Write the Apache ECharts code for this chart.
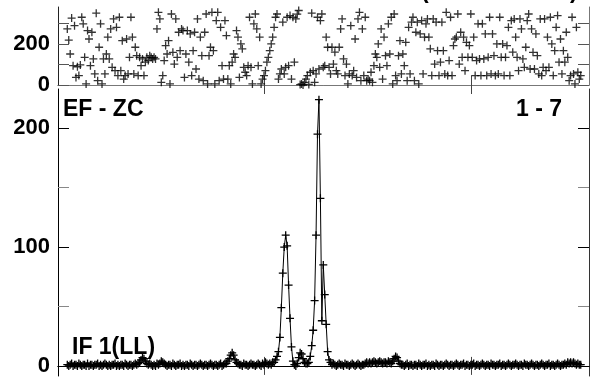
<!DOCTYPE html>
<html>
<head>
<meta charset="utf-8">
<script src="https://cdn.jsdelivr.net/npm/echarts@6/dist/echarts.min.js"></script>
<style>
  html, body { margin: 0; padding: 0; background: #fff; }
  #chart { width: 591px; height: 381px; }
</style>
</head>
<body>
<div id="chart"></div>
<script>
// frame axis: first sample and spacing
const xStart = 4.5;
const xStep = 0.7;

// upper panel: angle per frame
const topAngle = [
  273,219,151,326,94,289,37,89,46,98,
  330,298,135,5,265,224,94,257,127,54,
  350,21,184,298,5,127,54,151,233,127,
  273,86,322,70,281,46,330,70,216,29,
  46,224,54,135,330,233,54,184,143,46,
  135,94,127,46,111,135,119,143,135,127,
  135,127,273,354,322,13,46,119,192,151,
  216,5,346,159,102,322,135,257,167,273,
  265,37,151,265,111,249,46,167,257,78,
  322,29,233,143,21,257,346,5,143,184,
  354,167,5,314,354,21,281,94,29,314,
  241,29,94,5,111,151,135,265,233,37,
  200,176,86,62,46,94,330,86,5,298,
  346,273,94,233,5,29,46,70,111,135,
  167,200,233,281,330,346,29,54,78,306,
  54,86,330,94,338,29,330,111,322,345,
  363,2,5,0,13,29,46,3,62,350,
  70,13,54,330,78,314,346,86,94,
  233,184,86,54,184,102,160,70,54,184,
  273,322,127,46,102,5,54,289,46,70,
  224,37,322,354,21,273,46,330,21,29,
  21,62,13,94,151,135,200,86,273,29,
  233,143,94,298,151,330,5,346,46,21,
  143,216,54,151,94,208,21,281,54,306,
  330,21,257,306,5,249,314,54,233,298,
  322,233,176,46,322,102,306,167,46,111,
  306,167,54,354,46,119,330,46,192,224,
  233,346,102,257,135,233,70,208,135,192,
  346,135,233,46,119,298,127,46,298,127,
  249,46,135,330,54,249,143,46,200,54,
  330,135,200,46,135,192,281,46,314,160,
  322,233,135,70,322,273,127,86,184,314,
  346,78,273,159,78,249,143,54,322,46,
  86,322,70,233,86,330,200,46,167,281,
  338,111,224,54,167,111,257,135,21,46,
  330,54,5,281,62,29,46
];

// lower panel: counts per frame
const bottomCount = [
  1,0,1,2,0,1,1,0,2,1,
  0,1,1,0,2,0,1,1,0,1,
  1,2,0,1,0,1,2,1,0,1,
  0,1,1,2,0,1,0,1,1,0,
  2,1,0,1,1,0,1,2,1,2,
  3,5,7,6,4,2,1,2,1,0,
  1,0,2,1,2,4,3,2,1,0,
  1,1,0,2,1,0,1,1,2,0,
  1,0,1,1,0,2,1,0,1,1,
  0,1,2,1,0,1,1,0,1,2,
  1,0,1,1,0,1,2,0,1,2,
  2,4,6,9,11,9,5,3,2,1,
  1,0,2,1,1,0,1,2,1,1,
  0,1,2,1,0,2,1,3,2,1,
  2,1,3,3,5,8,12,24,49,78,
  100,110,101,68,40,16,4,1,0,2,
  7,11,10,6,3,2,2,3,8,17,
  30,55,110,195,224,141,38,85,60,35,
  12,5,3,1,2,1,0,1,2,1,
  1,0,2,1,1,0,1,2,1,0,
  1,2,1,0,1,1,2,3,2,3,
  2,3,4,3,2,3,4,3,2,3,
  3,2,4,3,2,4,6,8,7,4,
  2,1,1,0,1,2,0,1,1,0,
  1,1,0,2,1,0,1,1,2,0,
  1,0,1,1,0,2,1,0,1,1,
  0,1,2,1,0,1,1,0,1,2,
  1,0,1,1,2,0,1,1,0,1,
  1,2,0,1,1,0,1,2,1,0,
  1,1,0,2,1,1,0,1,1,2,
  0,1,1,0,1,2,1,0,1,1,
  2,1,0,1,1,0,2,1,1,0,
  1,2,1,0,1,1,0,1,2,1,
  0,1,1,2,0,1,1,0,1,2,
  1,0,1,1,2,1,3,2,3,2,
  3,2,1,2,1,1
];

const topTicks = [0, 100, 200, 300];
const topLabels = [0, 200];
const bottomTicks = [0, 100, 200];
const bottomMinor = [50, 150];
const xTicks = [100, 200];

const labelFont = { fontFamily: 'Liberation Sans, Arial, sans-serif', fontWeight: 'bold', fontSize: 22, color: '#000' };
const textFont = 'bold 23px Liberation Sans, Arial, sans-serif';
const plus = 'path://M4,0L4,8M0,4L8,4';

const chart = echarts.init(document.getElementById('chart'));

function xAxis(grid, pos, color) {
  return {
    type: 'value', gridIndex: grid, position: pos, min: 0, max: 257,
    axisLine: { show: true, lineStyle: { color, width: 1 } },
    axisTick: { show: true, inside: true, length: 9, customValues: xTicks, lineStyle: { color: '#444' } },
    axisLabel: { show: false },
    splitLine: { show: false },
  };
}

function yAxis(grid, pos, min, max, ticks, labels, color, tickColor, lineShow) {
  return {
    type: 'value', gridIndex: grid, position: pos, min, max,
    axisLine: { show: lineShow, onZero: false, lineStyle: { color, width: 1 } },
    axisTick: { show: true, inside: true, length: 11, customValues: ticks, lineStyle: { color: tickColor } },
    axisLabel: labels ? Object.assign({ show: true, margin: 8, customValues: labels }, labelFont) : { show: false },
    splitLine: { show: false },
  };
}

const xs = topAngle.map((v, i) => xStart + i * xStep);

const option = {
  animation: false,
  backgroundColor: '#fff',
  grid: [
    { left: 58, right: 2, top: 7, height: 78 },
    { left: 58, right: 2, top: 89, height: 287 },
  ],
  xAxis: [
    xAxis(0, 'bottom', '#777'),
    xAxis(0, 'top', '#777'),
    xAxis(1, 'bottom', '#000'),
    xAxis(1, 'top', '#000'),
  ],
  yAxis: [
    yAxis(0, 'left', 0, 380, topTicks, topLabels, '#222', '#555', true),
    yAxis(0, 'right', 0, 380, topTicks, null, '#777', '#555', true),
    yAxis(1, 'left', -8.5, 233, bottomTicks, bottomTicks, '#000', '#000', true),
    yAxis(1, 'right', -8.5, 233, bottomTicks, null, '#333', '#000', true),
    yAxis(1, 'left', -8.5, 233, bottomMinor, null, '#000', '#888', false),
    yAxis(1, 'right', -8.5, 233, bottomMinor, null, '#000', '#888', false),
  ],
  graphic: [
    { type: 'text', left: 63, top: 98, style: { text: 'EF - ZC', font: textFont, fill: '#000' } },
    { type: 'text', right: 29, top: 98, style: { text: '1 - 7', font: textFont, fill: '#000' } },
    { type: 'text', left: 72, top: 336, style: { text: 'IF 1(LL)', font: textFont, fill: '#000' } },
    { type: 'text', left: 421, top: -20, style: { text: '(', font: textFont, fill: '#000' } },
    { type: 'text', left: 570, top: -20, style: { text: ')', font: textFont, fill: '#000' } },
  ],
  series: [
    {
      type: 'scatter', xAxisIndex: 0, yAxisIndex: 0,
      symbol: plus, symbolSize: 8,
      itemStyle: { color: 'none', borderColor: '#000', borderWidth: 1.3 },
      data: topAngle.map((v, i) => [xs[i], v]),
    },
    {
      type: 'line', xAxisIndex: 2, yAxisIndex: 2,
      symbol: plus, symbolSize: 8, showSymbol: true, showAllSymbol: true,
      lineStyle: { color: '#000', width: 1 },
      itemStyle: { color: 'none', borderColor: '#000', borderWidth: 1.3 },
      data: bottomCount.map((v, i) => [xs[i], v]),
    },
  ],
};

chart.setOption(option);
</script>
</body>
</html>
